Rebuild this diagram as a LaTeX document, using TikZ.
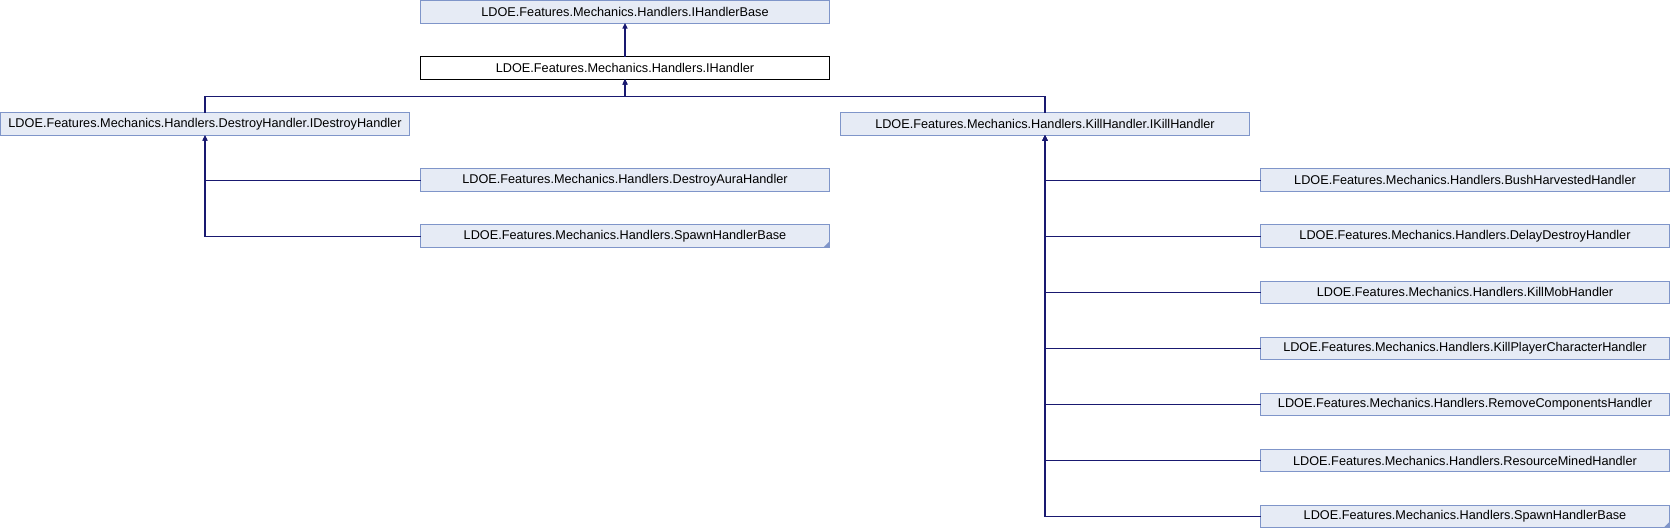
\documentclass[tikz,border=0pt]{standalone}
\usepackage{fontspec}
\setmainfont{Liberation Sans}
\usetikzlibrary{arrows.meta}
\definecolor{boxfill}{HTML}{E6EBF5}
\definecolor{boxdraw}{HTML}{7F95C9}
\definecolor{edgecol}{HTML}{191970}
\begin{document}
\begin{tikzpicture}[x=1pt,y=1pt,
  cls/.style={draw=boxdraw, fill=boxfill, line width=1pt, rectangle, minimum width=409pt, minimum height=22.5pt, inner sep=0pt, outer sep=0pt, anchor=north west, font=\fontsize{12.7}{15}\selectfont},
  cur/.style={cls, draw=black, fill=white},
  edge/.style={draw=edgecol, line width=1.1pt, -{Triangle[length=5.5pt,width=5pt]}},
  fold/.style={fill=boxdraw}]
\useasboundingbox (0,0) rectangle (1670,-528);
\node[cls] (base) at (420.5,-0.5) {LDOE.Features.Mechanics.Handlers.IHandlerBase};
\node[cur] (ih) at (420.5,-56.6) {LDOE.Features.Mechanics.Handlers.IHandler};
\node[cls] (idh) at (0.5,-112.7) {LDOE.Features.Mechanics.Handlers.DestroyHandler.IDestroyHandler};
\node[cls] (ikh) at (840.5,-112.7) {LDOE.Features.Mechanics.Handlers.KillHandler.IKillHandler};
\node[cls] (dah) at (420.5,-168.8) {LDOE.Features.Mechanics.Handlers.DestroyAuraHandler};
\node[cls] (shbl) at (420.5,-224.9) {LDOE.Features.Mechanics.Handlers.SpawnHandlerBase};
\node[cls] (bhh) at (1260.5,-168.8) {LDOE.Features.Mechanics.Handlers.BushHarvestedHandler};
\node[cls] (ddh) at (1260.5,-224.9) {LDOE.Features.Mechanics.Handlers.DelayDestroyHandler};
\node[cls] (kmh) at (1260.5,-281.0) {LDOE.Features.Mechanics.Handlers.KillMobHandler};
\node[cls] (kpch) at (1260.5,-337.1) {LDOE.Features.Mechanics.Handlers.KillPlayerCharacterHandler};
\node[cls] (rch) at (1260.5,-393.2) {LDOE.Features.Mechanics.Handlers.RemoveComponentsHandler};
\node[cls] (rmh) at (1260.5,-449.3) {LDOE.Features.Mechanics.Handlers.ResourceMinedHandler};
\node[cls] (shbr) at (1260.5,-505.4) {LDOE.Features.Mechanics.Handlers.SpawnHandlerBase};
\fill[fold] (shbl.south east) -- ++(-6,0) -- ++(6,6) -- cycle;
\fill[fold] (shbr.south east) -- ++(-6,0) -- ++(6,6) -- cycle;
\draw[edge] (ih.north) -- (base.south);
\draw[edge] (idh.north) -- ++(0,16.2) -| (ih.south);
\draw[edge] (ikh.north) -- ++(0,16.2) -| (ih.south);
\draw[edge] (dah.west) -| (idh.south);
\draw[edge] (shbl.west) -| (idh.south);
\foreach \n in {bhh,ddh,kmh,kpch,rch,rmh,shbr}
  \draw[edge] (\n.west) -| (ikh.south);
\end{tikzpicture}
\end{document}
